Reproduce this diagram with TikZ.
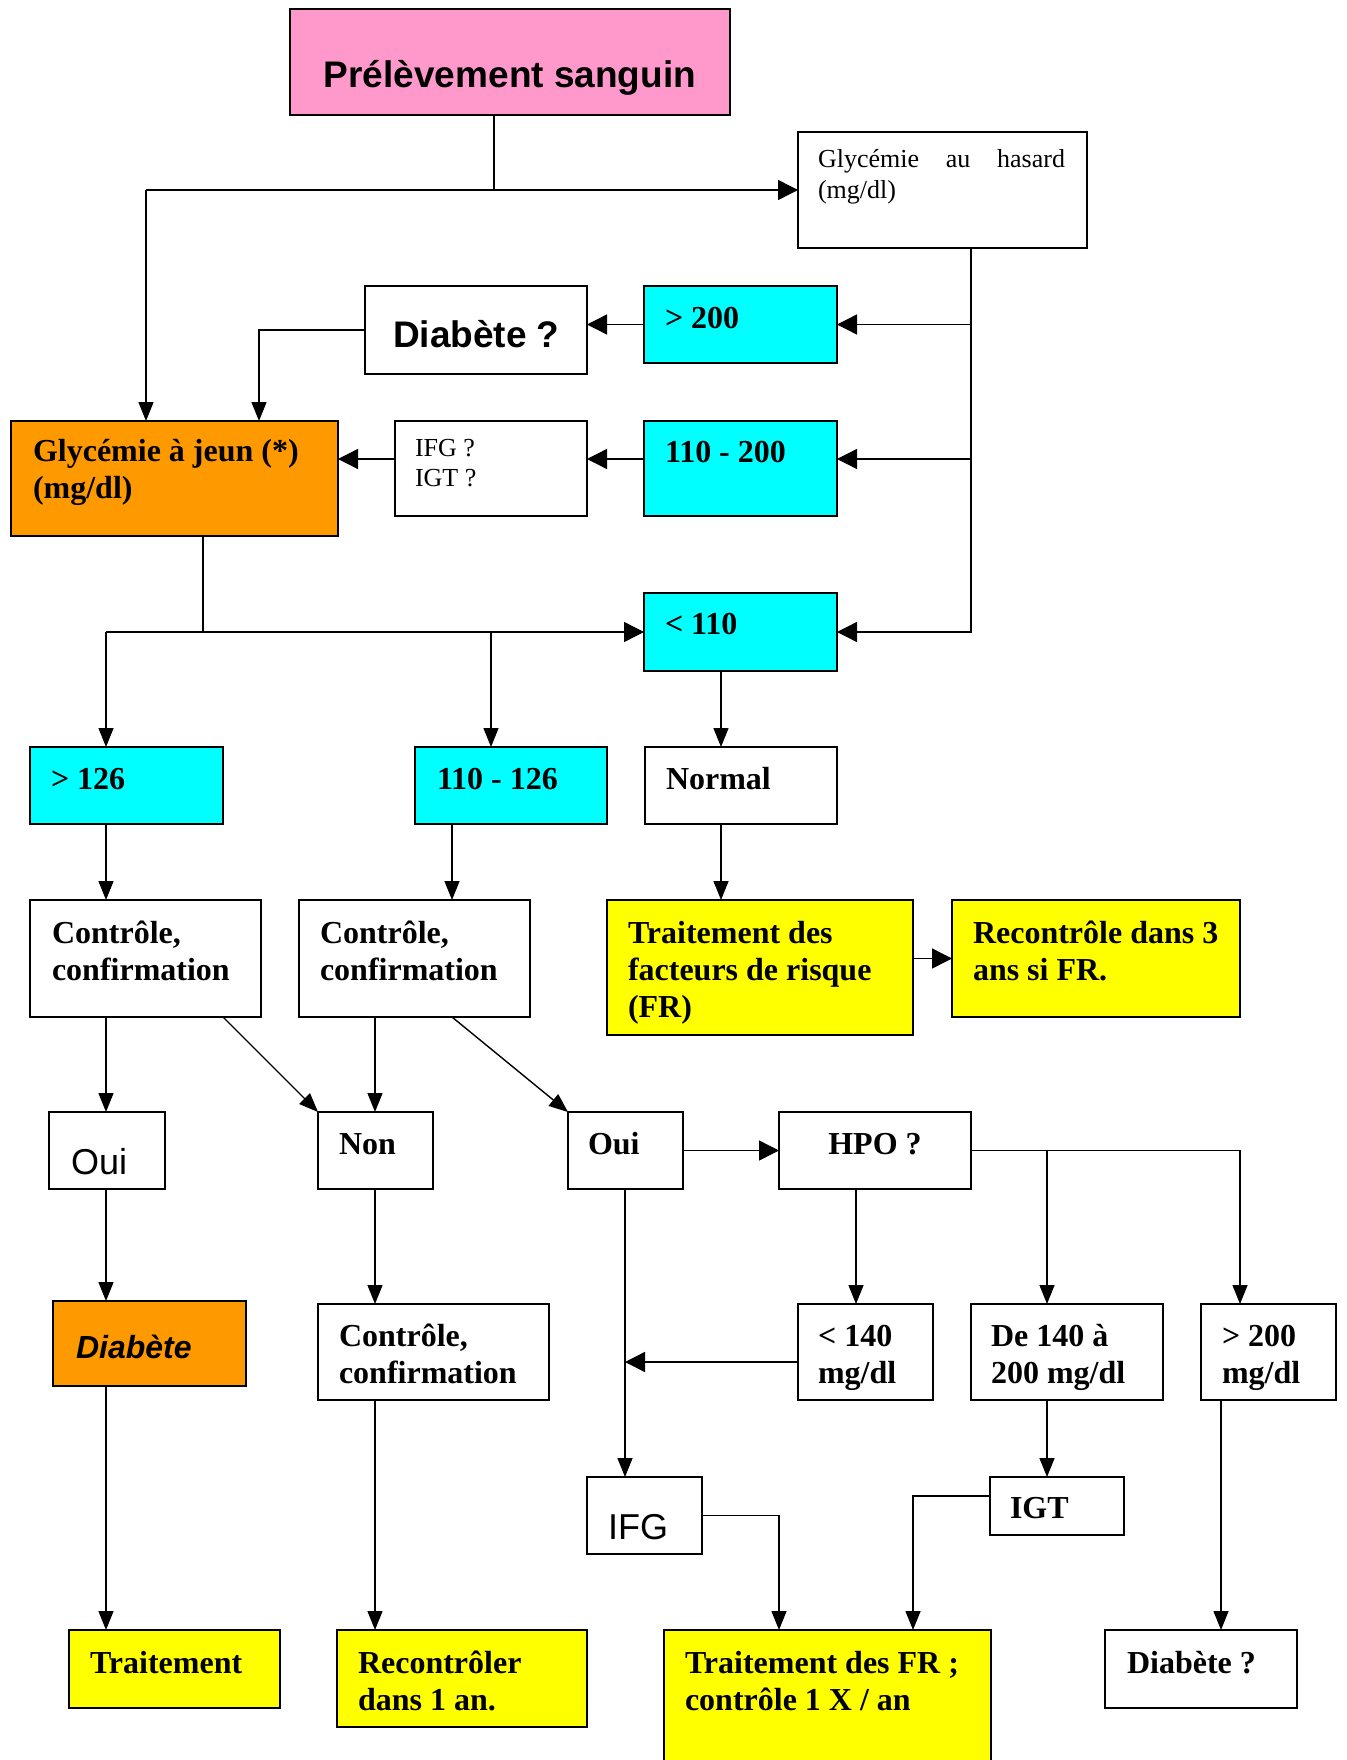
\documentclass[tikz,border=0pt]{standalone}
\usepackage{fontspec}
\setmainfont{Liberation Serif}
\newfontfamily\arialf{Liberation Sans}
\usetikzlibrary{arrows.meta}
\definecolor{pinkc}{HTML}{FF99CC}
\definecolor{cyanc}{HTML}{00FFFF}
\definecolor{orangec}{HTML}{FF9900}
\definecolor{yellowc}{HTML}{FFFF00}
% width height padx firstbaseline text
\newcommand\tb[5]{\vbox to #2pt{\hsize=#1pt\relax\raggedright\leftskip=#3pt\relax\noindent\rule{0pt}{#4pt}#5\par\vfil}}
% centred: width height firstbaseline text
\newcommand\tbc[4]{\vbox to #2pt{\hsize=#1pt\relax\centering\noindent\rule{0pt}{#3pt}#4\par\vfil}}
\tikzset{
  bx/.style={draw, line width=1.8pt, inner sep=0pt, outer sep=0pt, anchor=north west},
  tbf/.style={font=\fontsize{32}{37}\selectfont\bfseries},
  treg/.style={font=\fontsize{26}{30.5}\selectfont},
  abf/.style={font=\arialf\bfseries\fontsize{37}{42}\selectfont},
  areg/.style={font=\arialf\fontsize{36}{41}\selectfont},
  abi/.style={font=\arialf\bfseries\itshape\fontsize{32}{37}\selectfont},
  conn/.style={line width=1.4pt},
  varr/.style={conn, -{Triangle[length=19pt,width=15pt]}},
  harr/.style={conn, -{Triangle[length=20pt,width=20pt]}},
}
\begin{document}
\begin{tikzpicture}[x=1pt,y=-1pt]
\useasboundingbox (0,0) rectangle (1346,1760);
% ---------- nodes ----------
\node[bx,fill=pinkc,abf] (P) at (290,9) {\tbc{440}{106}{79}{Prélèvement sanguin}};
\node[bx,fill=white,treg] (hasard) at (798,132) {\tb{289}{116}{20}{36}{\hbox to 247pt{Glycémie\hfil au\hfil hasard}\\(mg/dl)}};
\node[bx,fill=white,abf] (D1) at (365,286) {\tb{222}{88}{28}{61}{Diabète ?}};
\node[bx,fill=cyanc,tbf] (g200) at (644,286) {\tb{193}{77}{21}{42}{> 200}};
\node[bx,fill=orangec,tbf] (gj) at (11,421) {\tb{327}{115}{22}{40}{Glycémie à jeun (*)\\(mg/dl)}};
\node[bx,fill=white,treg] (IFGq) at (395,421) {\tb{192}{95}{20}{35}{IFG ?\\IGT ?}};
\node[bx,fill=cyanc,tbf] (b200) at (644,421) {\tb{193}{95}{21}{41}{110 - 200}};
\node[bx,fill=cyanc,tbf] (lt110) at (644,593) {\tb{193}{78}{21}{41}{< 110}};
\node[bx,fill=cyanc,tbf] (g126) at (30,747) {\tb{193}{77}{21}{42}{> 126}};
\node[bx,fill=cyanc,tbf] (b126) at (415,747) {\tb{192}{77}{22}{42}{110 - 126}};
\node[bx,fill=white,tbf] (Normal) at (645,747) {\tb{192}{77}{21}{42}{Normal}};
\node[bx,fill=white,tbf] (C1) at (30,900) {\tb{231}{117}{22}{43}{Contrôle,\\confirmation}};
\node[bx,fill=white,tbf] (C2) at (299,900) {\tb{231}{117}{21}{43}{Contrôle,\\confirmation}};
\node[bx,fill=yellowc,tbf] (TF) at (607,900) {\tb{306}{135}{21}{43}{Traitement des\\facteurs de risque\\(FR)}};
\node[bx,fill=yellowc,tbf] (R3) at (952,900) {\tb{288}{117}{21}{43}{Recontrôle dans 3\\ans si FR.}};
\node[bx,fill=white,areg] (Oui1) at (49,1112) {\tb{116}{77}{22}{62}{Oui}};
\node[bx,fill=white,tbf] (Non) at (318,1112) {\tb{115}{77}{21}{42}{Non}};
\node[bx,fill=white,tbf] (Oui2) at (568,1112) {\tb{115}{77}{20}{42}{Oui}};
\node[bx,fill=white,tbf] (HPO) at (779,1112) {\tbc{192}{77}{42}{HPO ?}};
\node[bx,fill=orangec,abi] (DiabO) at (53,1301) {\tb{193}{85}{23}{57}{Diabète}};
\node[bx,fill=white,tbf] (C3) at (318,1304) {\tb{231}{96}{21}{42}{Contrôle,\\confirmation}};
\node[bx,fill=white,tbf] (L140) at (798,1304) {\tb{135}{96}{20}{42}{< 140\\mg/dl}};
\node[bx,fill=white,tbf] (De140) at (971,1304) {\tb{192}{96}{20}{42}{De 140 à\\200 mg/dl}};
\node[bx,fill=white,tbf] (G200mg) at (1201,1304) {\tb{135}{96}{21}{42}{> 200\\mg/dl}};
\node[bx,fill=white,areg] (IFG) at (587,1477) {\tb{115}{77}{21}{62}{IFG}};
\node[bx,fill=white,tbf] (IGT) at (990,1477) {\tb{134}{58}{20}{41}{IGT}};
\node[bx,fill=yellowc,tbf] (Trait) at (69,1630) {\tb{211}{78}{21}{43}{Traitement}};
\node[bx,fill=yellowc,tbf] (Rec1) at (337,1630) {\tb{250}{97}{21}{43}{Recontrôler\\dans 1 an.}};
\node[bx,fill=yellowc,tbf] (TFR) at (664,1630) {\tb{327}{145}{21}{43}{Traitement des FR~;\\contrôle 1 X / an}};
\node[bx,fill=white,tbf] (D2) at (1105,1630) {\tb{192}{78}{22}{43}{Diabète ?}};
% ---------- connectors ----------
\coordinate (j1) at (494,190);
\coordinate (j2) at (146,190);
\draw[conn] (P.south -| j1) -- (j1);
\draw[harr] (j2) -- (hasard.west);
\draw[varr] (j2) -- (j2 |- gj.north);
\coordinate (r1) at (971,632);
\draw[harr] (hasard.south -| r1) -- (r1) -- (lt110.east);
\draw[harr] (r1 |- g200.east) -- (g200.east);
\coordinate (y459) at (0,459);
\draw[harr] (r1 |- y459) -- (b200.east |- y459);
\draw[harr] (g200.west) -- (g200.west -| D1.east);
\coordinate (j3) at (259,0);
\draw[varr] (D1.west) -| (j3 |- gj.north);
\draw[harr] (b200.west |- y459) -- (IFGq.east |- y459);
\draw[harr] (IFGq.west |- y459) -- (gj.east |- y459);
\coordinate (j4) at (203,632);
\coordinate (j5) at (106,632);
\coordinate (j6) at (491,632);
\draw[conn] (gj.south -| j4) -- (j4);
\draw[harr] (j5) -- (lt110.west);
\draw[varr] (j5) -- (j5 |- g126.north);
\draw[varr] (j6) -- (j6 |- b126.north);
\coordinate (x721) at (721,0);
\draw[varr] (lt110.south -| x721) -- (Normal.north -| x721);
\draw[varr] (Normal.south -| x721) -- (TF.north -| x721);
\draw[harr] (TF.east |- R3.west) -- (R3.west);
\draw[varr] (g126.south -| j5) -- (C1.north -| j5);
\coordinate (x452) at (452,0);
\draw[varr] (b126.south -| x452) -- (C2.north -| x452);
\draw[varr] (C1.south -| j5) -- (Oui1.north -| j5);
\coordinate (x223) at (223,0);
\draw[varr] (C1.south -| x223) -- (Non.north west);
\coordinate (x375) at (375,0);
\draw[varr] (C2.south -| x375) -- (Non.north -| x375);
\draw[varr] (C2.south -| x452) -- (Oui2.north west);
\draw[harr] (Oui2.east) -- (HPO.west);
\coordinate (x1240) at (1240,0);
\coordinate (x1047) at (1047,0);
\coordinate (x856) at (856,0);
\draw[varr] (HPO.east) -| (x1240 |- G200mg.north);
\draw[varr] (HPO.east -| x1047) -- (x1047 |- De140.north);
\draw[varr] (HPO.south -| x856) -- (L140.north -| x856);
\draw[varr] (Oui1.south -| j5) -- (DiabO.north -| j5);
\draw[varr] (DiabO.south -| j5) -- (Trait.north -| j5);
\draw[varr] (Non.south -| x375) -- (C3.north -| x375);
\draw[varr] (C3.south -| x375) -- (Rec1.north -| x375);
\coordinate (x625) at (625,0);
\draw[varr] (Oui2.south -| x625) -- (IFG.north -| x625);
\coordinate (y1362) at (0,1362);
\draw[harr] (L140.west |- y1362) -- (x625 |- y1362);
\draw[varr] (De140.south -| x1047) -- (IGT.north -| x1047);
\coordinate (x779) at (779,0);
\coordinate (x913) at (913,0);
\draw[varr] (IFG.east) -| (x779 |- TFR.north);
\coordinate (y1496) at (0,1496);
\draw[varr] (IGT.west |- y1496) -| (x913 |- TFR.north);
\coordinate (x1221) at (1221,0);
\draw[varr] (G200mg.south -| x1221) -- (D2.north -| x1221);
\end{tikzpicture}
\end{document}
